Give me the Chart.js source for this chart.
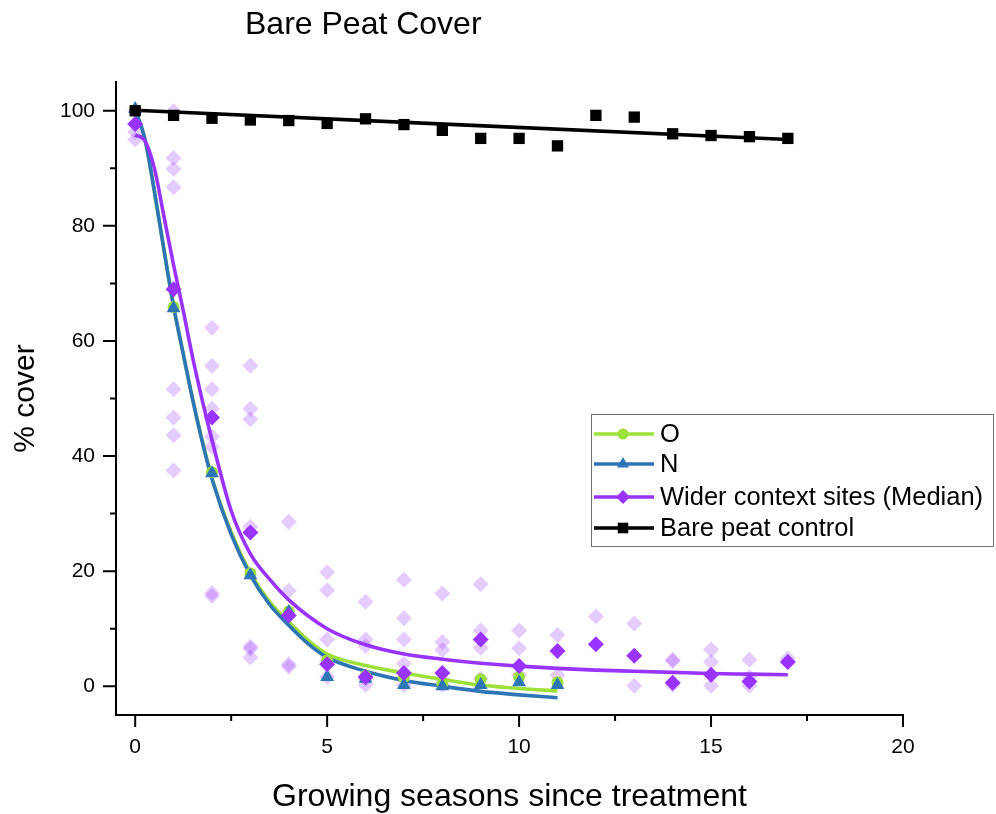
<!DOCTYPE html>
<html>
<head>
<meta charset="utf-8">
<script src="https://cdn.jsdelivr.net/npm/chart.js@4.4.1/dist/chart.umd.min.js"></script>
<style>
  html, body { margin: 0; padding: 0; background: #fff; }
</style>
</head>
<body>
<canvas id="chart" width="996" height="814"></canvas>
<script>
// Growing seasons (x) for the measured series
const seasons = [0, 1, 2, 3, 4, 5, 6, 7, 8, 9, 10, 11, 12, 13, 14, 15, 16, 17];
const oCover = [100, 65.9, 37.2, 19.6, 13.0, 4.5, 1.8, 1.5, 0.4, 1.2, 1.6, 0.7];
const nCover = [100.3, 65.7, 37.0, 19.3, 12.9, 1.6, 1.3, 0.2, 0.0, 0.2, 0.7, 0.2];
const medianCover = [97.7, 69.0, 46.7, 26.7, 12.3, 3.8, 1.6, 2.3, 2.3, 8.1, 3.5, 6.1, 7.3, 5.3, 0.6, 2.0, 0.8, 4.2];
const controlCover = [100, 99.2, 98.7, 98.4, 98.3, 97.8, 98.6, 97.6, 96.6, 95.2, 95.2, 93.9, 99.2, 98.9, 96.0, 95.7, 95.5, 95.2];

// individual wider-context sites (faint diamonds)
const siteSeason = [
  0, 0, 0,
  1, 1, 1, 1, 1, 1, 1, 1,
  2, 2, 2, 2, 2, 2, 2, 2,
  3, 3, 3, 3, 3, 3, 3,
  4, 4, 4, 4,
  5, 5, 5, 5, 5,
  6, 6, 6, 6, 6,
  7, 7, 7, 7, 7,
  8, 8, 8, 8, 8,
  9, 9, 9, 9,
  10, 10, 10,
  11, 11,
  12,
  13, 13,
  14, 14, 14,
  15, 15, 15,
  16, 16, 16,
  17
];
const siteCover = [
  100, 96.3, 95.0,
  99.9, 91.8, 89.9, 86.7, 51.6, 46.7, 43.6, 37.5,
  62.3, 55.7, 51.6, 48.2, 43.4, 41.6, 16.2, 15.7,
  55.7, 48.2, 46.4, 27.7, 6.9, 6.5, 5.0,
  28.6, 16.6, 3.8, 3.4,
  19.8, 16.7, 8.1, 4.4, 1.6,
  14.7, 8.1, 7.0, 1.2, 0.2,
  18.5, 11.8, 8.1, 3.9, 0.2,
  16.1, 7.7, 6.3, 1.2, 0.2,
  17.7, 9.7, 6.7, 1.3,
  9.7, 6.6, 1.9,
  8.9, 1.9,
  12.1,
  10.9, 0.1,
  4.6, 4.4, 0.2,
  6.4, 4.2, 0.1,
  4.6, 1.6, 0.1,
  4.8
];

// fitted curves
const fitSeason = [0, 0.25, 0.5, 0.75, 1, 1.25, 1.5, 1.75, 2, 2.5, 3, 3.5, 4, 4.5, 5, 6, 7, 8, 9, 10, 11];
const nFit = [100.2, 95.2, 86.0, 75.8, 66.0, 57.8, 49.7, 42.4, 36.0, 26.4, 19.3, 14.2, 10.6, 7.4, 5.0, 2.6, 1.0, 0.0, -0.9, -1.5, -2.0];
const oFit = [100.2, 95.2, 86.0, 75.8, 66.0, 57.8, 49.8, 42.6, 36.2, 26.8, 19.7, 14.7, 11.2, 8.0, 5.6, 3.6, 2.3, 1.2, 0.2, -0.4, -0.8];
const medFitSeason = [0, 0.25, 0.5, 0.75, 1, 1.25, 1.5, 1.75, 2, 2.5, 3, 3.5, 4, 5, 6, 7, 8, 9, 10, 11, 12, 13, 14, 15, 16, 17];
const medFit = [95.8, 94.8, 90.0, 81.6, 73.2, 65.3, 57.0, 49.6, 42.8, 30.5, 23.0, 18.6, 15.0, 10.0, 7.2, 5.6, 4.7, 4.0, 3.5, 3.1, 2.8, 2.6, 2.4, 2.2, 2.1, 2.0];
const controlFitSeason = [0, 17];
const controlFit = [100.1, 95.0];

// axis ticks
const xMajorTicks = [0, 5, 10, 15, 20];
const xMinorTicks = [2.5, 7.5, 12.5, 17.5];
const yMajorTicks = [0, 20, 40, 60, 80, 100];
const yMinorTicks = [10, 30, 50, 70, 90];

const GREEN = "#9ee03a";
const BLUE = "#2e75b6";
const PURPLE = "#9933ff";
const FAINT = "rgba(153, 51, 255, 0.25)";
const BLACK = "#000000";
const FONT = "'Liberation Sans', Arial, sans-serif";

function pts(xs, ys) {
  return ys.map((y, i) => ({ x: xs[i], y }));
}

function fitLine(label, xs, ys, color, order) {
  return {
    label, data: pts(xs, ys), showLine: true, borderColor: color, borderWidth: 3.6,
    pointRadius: 0, cubicInterpolationMode: "monotone", fill: false, order,
  };
}

function markers(label, ys, color, style, radius, order) {
  return {
    label, data: pts(seasons, ys), showLine: false, pointStyle: style,
    pointRadius: radius, pointBackgroundColor: color, pointBorderColor: color,
    pointBorderWidth: 0, order,
  };
}

const legendRows = [
  { label: "O", color: GREEN, style: "circle", radius: 5.5, y: 434 },
  { label: "N", color: BLUE, style: "triangle", radius: 7, y: 464 },
  { label: "Wider context sites (Median)", color: PURPLE, style: "rectRot", radius: 7, y: 497 },
  { label: "Bare peat control", color: BLACK, style: "rect", radius: 7.5, y: 528 },
];

const decorPlugin = {
  id: "decor",
  afterDraw(chart) {
    const { ctx, scales: { x, y } } = chart;
    ctx.save();
    ctx.strokeStyle = "#000";
    ctx.lineWidth = 2;
    const axX = x.left, axY = y.bottom;
    ctx.beginPath();
    yMajorTicks.forEach(v => { const p = y.getPixelForValue(v); ctx.moveTo(axX - 13, p); ctx.lineTo(axX, p); });
    yMinorTicks.forEach(v => { const p = y.getPixelForValue(v); ctx.moveTo(axX - 6, p); ctx.lineTo(axX, p); });
    xMajorTicks.forEach(v => { const p = x.getPixelForValue(v); ctx.moveTo(p, axY); ctx.lineTo(p, axY + 12); });
    xMinorTicks.forEach(v => { const p = x.getPixelForValue(v); ctx.moveTo(p, axY); ctx.lineTo(p, axY + 6); });
    ctx.stroke();

    // title
    ctx.fillStyle = "#000";
    ctx.font = `32px ${FONT}`;
    ctx.textBaseline = "alphabetic";
    ctx.textAlign = "left";
    ctx.fillText("Bare Peat Cover", 245, 34);

    // legend box
    ctx.fillStyle = "#fff";
    ctx.fillRect(591, 414, 403, 133);
    ctx.strokeStyle = "#707070";
    ctx.lineWidth = 1;
    ctx.strokeRect(591.5, 414.5, 402, 132);
    ctx.font = `25.5px ${FONT}`;
    ctx.textBaseline = "middle";
    for (const row of legendRows) {
      ctx.strokeStyle = row.color;
      ctx.fillStyle = row.color;
      ctx.lineWidth = 3.5;
      ctx.beginPath();
      ctx.moveTo(594, row.y);
      ctx.lineTo(654, row.y);
      ctx.stroke();
      Chart.helpers.drawPoint(ctx, { pointStyle: row.style, radius: row.radius, rotation: 0, borderWidth: 0 }, 623, row.y);
      ctx.fillStyle = "#000";
      ctx.fillText(row.label, 660, row.y + 1);
    }
    ctx.restore();
  },
};

new Chart(document.getElementById("chart"), {
  type: "scatter",
  data: {
    datasets: [
      markers("Bare peat control", controlCover, BLACK, "rect", 8, 0),
      markers("Wider context sites (Median)", medianCover, PURPLE, "rectRot", 8, 1),
      markers("N", nCover, BLUE, "triangle", 8, 2),
      markers("O", oCover, GREEN, "circle", 6, 3),
      fitLine("control fit", controlFitSeason, controlFit, BLACK, 4),
      fitLine("median fit", medFitSeason, medFit, PURPLE, 5),
      fitLine("N fit", fitSeason, nFit, BLUE, 6),
      fitLine("O fit", fitSeason, oFit, GREEN, 7),
      {
        label: "sites", data: pts(siteSeason, siteCover), showLine: false,
        pointStyle: "rectRot", pointRadius: 8, pointBackgroundColor: FAINT,
        pointBorderWidth: 0, order: 8,
      },
    ],
  },
  options: {
    responsive: false,
    animation: false,
    events: [],
    layout: { padding: { left: 0, right: 93, top: 82, bottom: 0 } },
    plugins: { legend: { display: false }, tooltip: { enabled: false }, title: { display: false } },
    scales: {
      x: {
        type: "linear", min: -0.5, max: 20,
        afterBuildTicks: s => { s.ticks = xMajorTicks.map(v => ({ value: v })); },
        afterFit: s => { s.height = 99; },
        grid: { display: false, drawTicks: false },
        border: { display: true, color: "#000", width: 2 },
        ticks: { color: "#000", padding: 20, maxRotation: 0, font: { size: 21, family: FONT } },
        title: {
          display: true, text: "Growing seasons since treatment", color: "#000",
          font: { size: 32, family: FONT, lineHeight: 1 }, padding: { top: 0, bottom: 1 },
        },
      },
      y: {
        type: "linear", min: -5, max: 105,
        afterBuildTicks: s => { s.ticks = yMajorTicks.map(v => ({ value: v })); },
        afterFit: s => { s.width = 116; },
        grid: { display: false, drawTicks: false },
        border: { display: true, color: "#000", width: 2 },
        ticks: { color: "#000", padding: 21, font: { size: 21, family: FONT } },
        title: {
          display: true, text: "% cover", color: "#000",
          font: { size: 30, family: FONT, lineHeight: 1 }, padding: { top: 11, bottom: 0 },
        },
      },
    },
  },
  plugins: [decorPlugin],
});
</script>
</body>
</html>
